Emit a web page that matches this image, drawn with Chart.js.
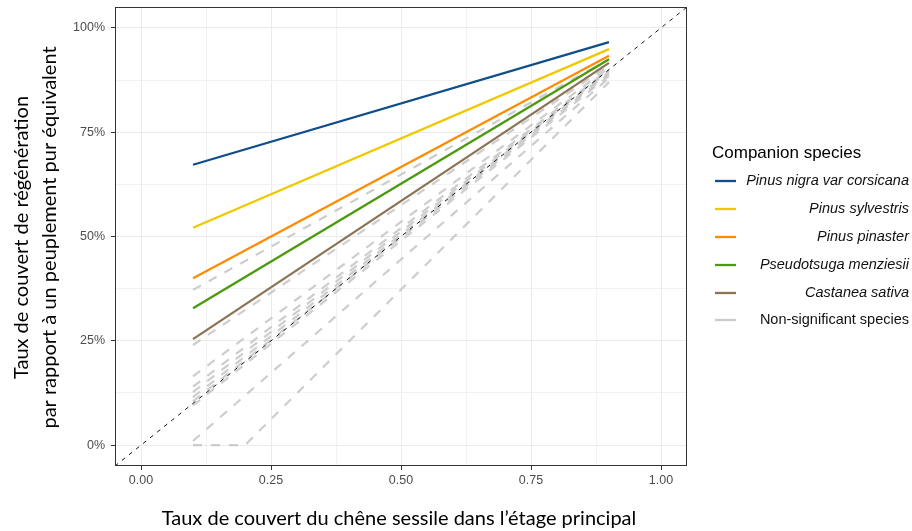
<!DOCTYPE html>
<html>
<head>
<meta charset="utf-8">
<script src="https://cdn.jsdelivr.net/npm/chart.js@4/dist/chart.umd.min.js"></script>
<style>
  html, body { margin: 0; padding: 0; background: #ffffff; }
  #wrap { position: relative; width: 912px; height: 531px; }
</style>
</head>
<body>
<div id="wrap"><canvas id="chart" width="912" height="531"></canvas></div>
<script>
// Oak cover in the main storey (x) at both ends of each fitted line
const coverX = [0.1, 0.9];

// Significant companion species: regeneration cover relative to a pure stand
const speciesNames = [
  "Pinus nigra var corsicana",
  "Pinus sylvestris",
  "Pinus pinaster",
  "Pseudotsuga menziesii",
  "Castanea sativa"
];
const speciesColors = ["#104E8B", "#EEC900", "#FF8C00", "#4A9A0C", "#8B7355"];
const pinusNigra   = [0.672, 0.966];
const pinusSylv    = [0.521, 0.949];
const pinusPinast  = [0.400, 0.933];
const pseudotsuga  = [0.328, 0.925];
const castanea     = [0.254, 0.916];
const speciesValues = [pinusNigra, pinusSylv, pinusPinast, pseudotsuga, castanea];

// Non-significant species (grey dashed)
const nsValues = [
  [0.372, 0.925],
  [0.240, 0.910],
  [0.165, 0.905],
  [0.140, 0.900],
  [0.127, 0.897],
  [0.115, 0.894],
  [0.105, 0.890],
  [0.095, 0.885],
  [0.010, 0.880]
];
// one non-significant species stays at zero until 0.2
const nsKinkX = [0.1, 0.2, 0.9];
const nsKinkY = [0.0, 0.0, 0.870];

// 1:1 reference line
const refLine = [-0.05, 1.05];

const xTitle = "Taux de couvert du chêne sessile dans l’étage principal";
const yTitle = ["Taux de couvert de régénération", "par rapport à un peuplement pur équivalent"];
const legendTitle = "Companion species";
const nsLabel = "Non-significant species";

const pts = (xs, ys) => xs.map((x, i) => ({ x: x, y: ys[i] }));

const datasets = [];
speciesValues.forEach((vals, i) => {
  datasets.push({
    label: speciesNames[i],
    data: pts(coverX, vals),
    borderColor: speciesColors[i],
    borderWidth: 2.3,
    order: 1
  });
});
datasets.push({
  label: "1:1",
  data: pts(refLine, refLine),
  borderColor: "#111111",
  borderWidth: 1,
  borderDash: [4, 5],
  order: 2
});
nsValues.forEach((vals, i) => {
  datasets.push({
    label: "ns" + i,
    data: pts(coverX, vals),
    borderColor: "rgba(200,200,200,0.9)",
    borderWidth: 2.2,
    borderDash: [9, 9],
    order: 3
  });
});
datasets.push({
  label: "ns-kink",
  data: pts(nsKinkX, nsKinkY),
  borderColor: "rgba(200,200,200,0.9)",
  borderWidth: 2.2,
  borderDash: [9, 9],
  order: 3
});

const minorOf = (v) => Math.abs(v * 4 - Math.round(v * 4)) > 1e-6;

// panel border, axis titles and the legend
const decorations = {
  id: "decorations",
  afterDraw(chart) {
    const ctx = chart.ctx;
    const a = chart.chartArea;
    ctx.save();
    ctx.strokeStyle = "#333333";
    ctx.lineWidth = 1;
    ctx.strokeRect(a.left + 0.5, a.top + 0.5, a.right - a.left - 1, a.bottom - a.top - 1);

    ctx.fillStyle = "#000000";
    ctx.textAlign = "center";
    ctx.textBaseline = "middle";
    ctx.font = "20px Lato";
    ctx.fillText(xTitle, (a.left + a.right) / 2 - 2, 519);

    const cy = (a.top + a.bottom) / 2 + 1;
    ctx.save();
    ctx.translate(22, cy);
    ctx.rotate(-Math.PI / 2);
    ctx.fillText(yTitle[0], 0, 0);
    ctx.restore();
    ctx.save();
    ctx.translate(50, cy);
    ctx.rotate(-Math.PI / 2);
    ctx.fillText(yTitle[1], 0, 0);
    ctx.restore();

    // legend
    ctx.textAlign = "left";
    ctx.font = "17px 'Liberation Sans'";
    ctx.fillText(legendTitle, 712, 153);
    const rowY = [181, 209, 237, 265, 293, 320];
    const keyColors = speciesColors.concat(["#cccccc"]);
    const keyLabels = speciesNames.concat([nsLabel]);
    keyLabels.forEach((lab, i) => {
      ctx.strokeStyle = keyColors[i];
      ctx.lineWidth = 2.3;
      ctx.beginPath();
      ctx.moveTo(715, rowY[i]);
      ctx.lineTo(736, rowY[i]);
      ctx.stroke();
      ctx.textAlign = "right";
      ctx.fillStyle = "#111111";
      ctx.font = (i < 5 ? "italic " : "") + "14.5px 'Liberation Sans'";
      ctx.fillText(lab, 909, rowY[i]);
    });
    ctx.restore();
  }
};

const gridColor = (ctx) => (ctx.tick && minorOf(ctx.tick.value)) ? "#f2f2f2" : "#ebebeb";
const tickColor = (ctx) => (ctx.tick && minorOf(ctx.tick.value)) ? "rgba(0,0,0,0)" : "#333333";

const eighths = (scale) => {
  const t = [];
  for (let k = 0; k <= 8; k++) t.push({ value: k / 8 });
  scale.ticks = t;
};

new Chart(document.getElementById("chart"), {
  type: "line",
  data: { datasets: datasets },
  options: {
    responsive: false,
    animation: false,
    elements: { point: { radius: 0 }, line: { tension: 0 } },
    layout: { padding: { left: 0, right: 225, top: 7, bottom: 0 } },
    plugins: { legend: { display: false }, tooltip: { enabled: false } },
    scales: {
      x: {
        type: "linear",
        min: -0.05,
        max: 1.05,
        afterBuildTicks: eighths,
        afterFit(scale) { scale.height = 65; scale.paddingLeft = 0; scale.paddingRight = 0; },
        grid: { color: gridColor, tickColor: tickColor, tickLength: 4, lineWidth: 1 },
        border: { display: false },
        ticks: {
          autoSkip: false,
          maxRotation: 0,
          padding: 3,
          color: "#4d4d4d",
          font: { family: "'Liberation Sans'", size: 12.5 },
          callback: (v) => minorOf(v) ? "" : v.toFixed(2)
        }
      },
      y: {
        type: "linear",
        min: -0.05,
        max: 1.05,
        afterBuildTicks: eighths,
        afterFit(scale) { scale.width = 115; scale.paddingTop = 0; scale.paddingBottom = 0; },
        grid: { color: gridColor, tickColor: tickColor, tickLength: 4, lineWidth: 1 },
        border: { display: false },
        ticks: {
          autoSkip: false,
          padding: 6,
          color: "#4d4d4d",
          font: { family: "'Liberation Sans'", size: 12.5 },
          callback: (v) => minorOf(v) ? "" : Math.round(v * 100) + "%"
        }
      }
    }
  },
  plugins: [decorations]
});
</script>
</body>
</html>
